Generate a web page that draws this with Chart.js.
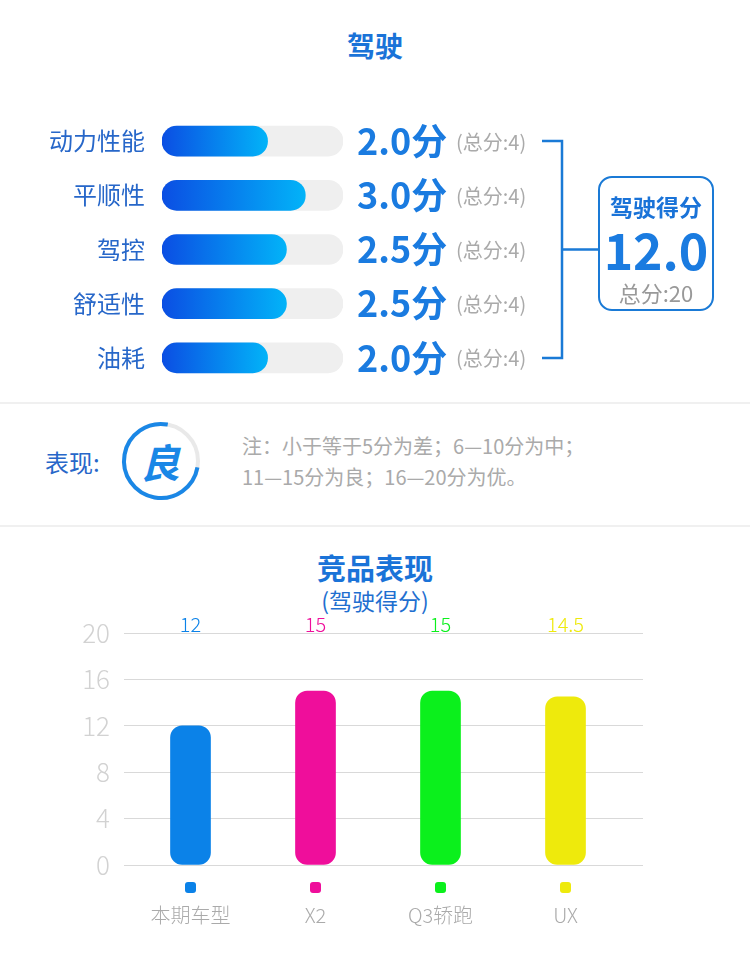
<!DOCTYPE html>
<html>
<head>
<meta charset="utf-8">
<script src="https://cdn.jsdelivr.net/npm/chart.js@4.4.1/dist/chart.umd.min.js"></script>
<style>
  html, body { margin: 0; padding: 0; background: #fff; }
  body { width: 750px; height: 969px; position: relative; overflow: hidden;
         font-family: "Noto Sans CJK SC", "Noto Sans", sans-serif; }
  .t { position: absolute; white-space: nowrap; }
  .c { transform: translateX(-50%); text-align: center; }
  .divider { position: absolute; left: 0; width: 750px; height: 2px; background: #f0f0f0; }
  #scoreBox { position: absolute; left: 598px; top: 176px; width: 116px; height: 135px;
              box-sizing: border-box; border: 2px solid #1a7ad6; border-radius: 14px; }
  canvas { position: absolute; left: 0; }
</style>
</head>
<body>

<div class="t c" style="left:375px; top:25px; height:40px; line-height:40px; font-size:28px; font-weight:bold; color:#1a73d8;">驾驶</div>

<div style="position:absolute; left:0; top:100px; width:750px; height:300px;">
  <canvas id="itemChart" width="750" height="300" style="top:0"></canvas>
</div>

<div id="scoreBox"></div>
<div class="t c" style="left:656px; top:190px; height:32px; line-height:32px; font-size:23px; font-weight:bold; color:#1a73d8;">驾驶得分</div>
<div class="t c" id="totalScore" style="left:656px; top:218px; height:60px; line-height:60px; font-size:50px; font-weight:bold; color:#1a7be0;"></div>
<div class="t c" id="totalMax" style="left:656px; top:277px; height:30px; line-height:30px; font-size:22px; color:#999;"></div>

<div class="divider" style="top:402px;"></div>

<div class="t" style="left:45px; top:446px; height:32px; line-height:32px; font-size:24px; color:#2767c9;">表现:</div>
<svg style="position:absolute; left:0; top:400px;" width="240" height="120">
  <circle cx="161" cy="61" r="37" fill="none" stroke="#e9e9e9" stroke-width="4"/>
  <circle cx="161" cy="61" r="37" fill="none" stroke="#1a87e6" stroke-width="4"
          stroke-dasharray="174.4 58.1" transform="rotate(10 161 61)"/>
</svg>
<div class="t c" style="left:160px; top:438px; height:46px; line-height:46px; font-size:40px; font-weight:bold; font-style:italic; color:#1a87e6;">良</div>
<div class="t" style="left:242px; top:430px; line-height:31px; font-size:20px; color:#aaa;">
  注：小于等于5分为差；6—10分为中；<br>11—15分为良；16—20分为优。
</div>

<div class="divider" style="top:525px;"></div>

<div class="t c" style="left:375px; top:548px; height:38px; line-height:38px; font-size:29px; font-weight:bold; color:#1a73d8;">竞品表现</div>
<div class="t c" style="left:375px; top:584px; height:32px; line-height:32px; font-size:23px; color:#1f6fd0;">(驾驶得分)</div>

<div style="position:absolute; left:0; top:600px; width:750px; height:340px;">
  <canvas id="compChart" width="750" height="340" style="top:0"></canvas>
</div>

<script>
// driving sub-items
const itemLabels = ['动力性能', '平顺性', '驾控', '舒适性', '油耗'];
const itemScores = [2.0, 3.0, 2.5, 2.5, 2.0];
const itemMax = [4, 4, 4, 4, 4];
const totalOutOf = 20;

// competitor comparison
const compLabels = ['本期车型', 'X2', 'Q3轿跑', 'UX'];
const compScores = [12, 15, 15, 14.5];
const compColors = ['#0b82e8', '#ef0e9b', '#0bf01c', '#eeea0c'];
const compTicks = [0, 4, 8, 12, 16, 20];

const blue = '#1a7be0';
const lineBlue = '#1a7ad6';
const trackStart = -0.8; // leaves room for the rounded cap at the bar start

const total = itemScores.reduce((a, b) => a + b, 0);
document.getElementById('totalScore').textContent = total.toFixed(1);
document.getElementById('totalMax').textContent = '总分:' + totalOutOf;

// keep the axis from eating vertical space for half-label padding
function noEdgePadding(s) {
    s.paddingTop = 0;
    s.paddingBottom = 0;
}

const itemTextPlugin = {
    id: 'itemText',
    afterDatasetsDraw(chart) {
        const { ctx, scales: { y } } = chart;
        ctx.save();
        ctx.textBaseline = 'middle';
        ctx.textAlign = 'left';
        itemScores.forEach((v, i) => {
            const py = y.getPixelForValue(i);
            ctx.fillStyle = blue;
            ctx.font = 'bold 36px "Noto Sans CJK SC"';
            ctx.fillText(v.toFixed(1) + '分', 357, py);
            ctx.fillStyle = '#aaa';
            ctx.font = '20px "Noto Sans CJK SC"';
            ctx.fillText('(总分:' + itemMax[i] + ')', 456, py + 1);
        });

        // bracket joining the rows to the score box
        const top = y.getPixelForValue(0);
        const bottom = y.getPixelForValue(itemScores.length - 1);
        const mid = (top + bottom) / 2;
        ctx.strokeStyle = lineBlue;
        ctx.lineWidth = 2.5;
        ctx.beginPath();
        ctx.moveTo(542, top); ctx.lineTo(562, top); ctx.lineTo(562, bottom); ctx.lineTo(542, bottom);
        ctx.moveTo(562, mid); ctx.lineTo(598, mid);
        ctx.stroke();
        ctx.restore();
    }
};

new Chart(document.getElementById('itemChart'), {
    type: 'bar',
    data: {
        labels: itemLabels,
        datasets: [
            {
                data: itemScores,
                base: trackStart,
                order: 0,
                grouped: false,
                barThickness: 30,
                borderRadius: 15,
                borderSkipped: false,
                backgroundColor: (c) => {
                    const chart = c.chart;
                    const area = chart.chartArea;
                    if (!area || c.raw === undefined) return '#0a6ae8';
                    const x1 = chart.scales.x.getPixelForValue(c.raw);
                    const g = chart.ctx.createLinearGradient(area.left, 0, x1, 0);
                    g.addColorStop(0, '#0b4ee3');
                    g.addColorStop(1, '#02b3f8');
                    return g;
                }
            },
            {
                data: itemMax,
                base: trackStart,
                order: 1,
                grouped: false,
                barThickness: 30,
                borderRadius: 15,
                borderSkipped: false,
                backgroundColor: '#efefef'
            }
        ]
    },
    options: {
        indexAxis: 'y',
        responsive: false,
        animation: false,
        layout: { padding: { left: 0, right: 407, top: 14, bottom: 15 } },
        plugins: { legend: { display: false }, tooltip: { enabled: false } },
        scales: {
            x: { display: false, min: trackStart, max: 4 },
            y: {
                afterFit: (s) => { s.width = 162; noEdgePadding(s); },
                grid: { display: false, drawTicks: false },
                border: { display: false },
                ticks: { color: '#2767c9', padding: 17, font: { size: 24, family: '"Noto Sans CJK SC"' } }
            }
        }
    },
    plugins: [itemTextPlugin]
});

const compMarksPlugin = {
    id: 'compMarks',
    afterDatasetsDraw(chart) {
        const { ctx, chartArea, scales: { x } } = chart;
        ctx.save();
        compScores.forEach((v, i) => {
            const px = x.getPixelForValue(i);
            ctx.fillStyle = compColors[i];
            ctx.font = '300 20px "Noto Sans CJK SC"';
            ctx.textAlign = 'center';
            ctx.textBaseline = 'alphabetic';
            ctx.fillText(String(v), px, chartArea.top - 1);
            ctx.beginPath();
            ctx.roundRect(px - 5.5, chartArea.bottom + 17, 11, 11, 3);
            ctx.fill();
        });
        ctx.restore();
    }
};

new Chart(document.getElementById('compChart'), {
    type: 'bar',
    data: {
        labels: compLabels,
        datasets: [{
            data: compScores,
            backgroundColor: compColors,
            barThickness: 40,
            borderRadius: 12,
            borderSkipped: false
        }]
    },
    options: {
        responsive: false,
        animation: false,
        layout: { padding: { left: 0, right: 107, top: 33, bottom: 0 } },
        plugins: { legend: { display: false }, tooltip: { enabled: false } },
        scales: {
            x: {
                afterFit: (s) => { s.height = 75; },
                grid: { display: false, drawTicks: false },
                border: { display: false },
                ticks: { color: '#aaa', padding: 38, font: { size: 20, weight: 300, family: '"Noto Sans CJK SC"' } }
            },
            y: {
                min: 0, max: 20,
                afterFit: (s) => { s.width = 128; noEdgePadding(s); },
                afterBuildTicks: (s) => { s.ticks = compTicks.map(v => ({ value: v })); },
                grid: { color: '#d9d9d9', tickLength: 4, drawTicks: true },
                border: { display: false },
                ticks: { color: '#d2d2d2', padding: 14, font: { size: 26, weight: 300, family: '"Noto Sans CJK SC"' } }
            },
            y2: {
                position: 'right',
                min: 0, max: 20,
                afterFit: (s) => { s.width = 15; noEdgePadding(s); },
                afterBuildTicks: (s) => { s.ticks = compTicks.map(v => ({ value: v })); },
                grid: { color: '#d9d9d9', tickLength: 15, drawOnChartArea: false },
                border: { display: false },
                ticks: { display: false }
            }
        }
    },
    plugins: [compMarksPlugin]
});
</script>
</body>
</html>
